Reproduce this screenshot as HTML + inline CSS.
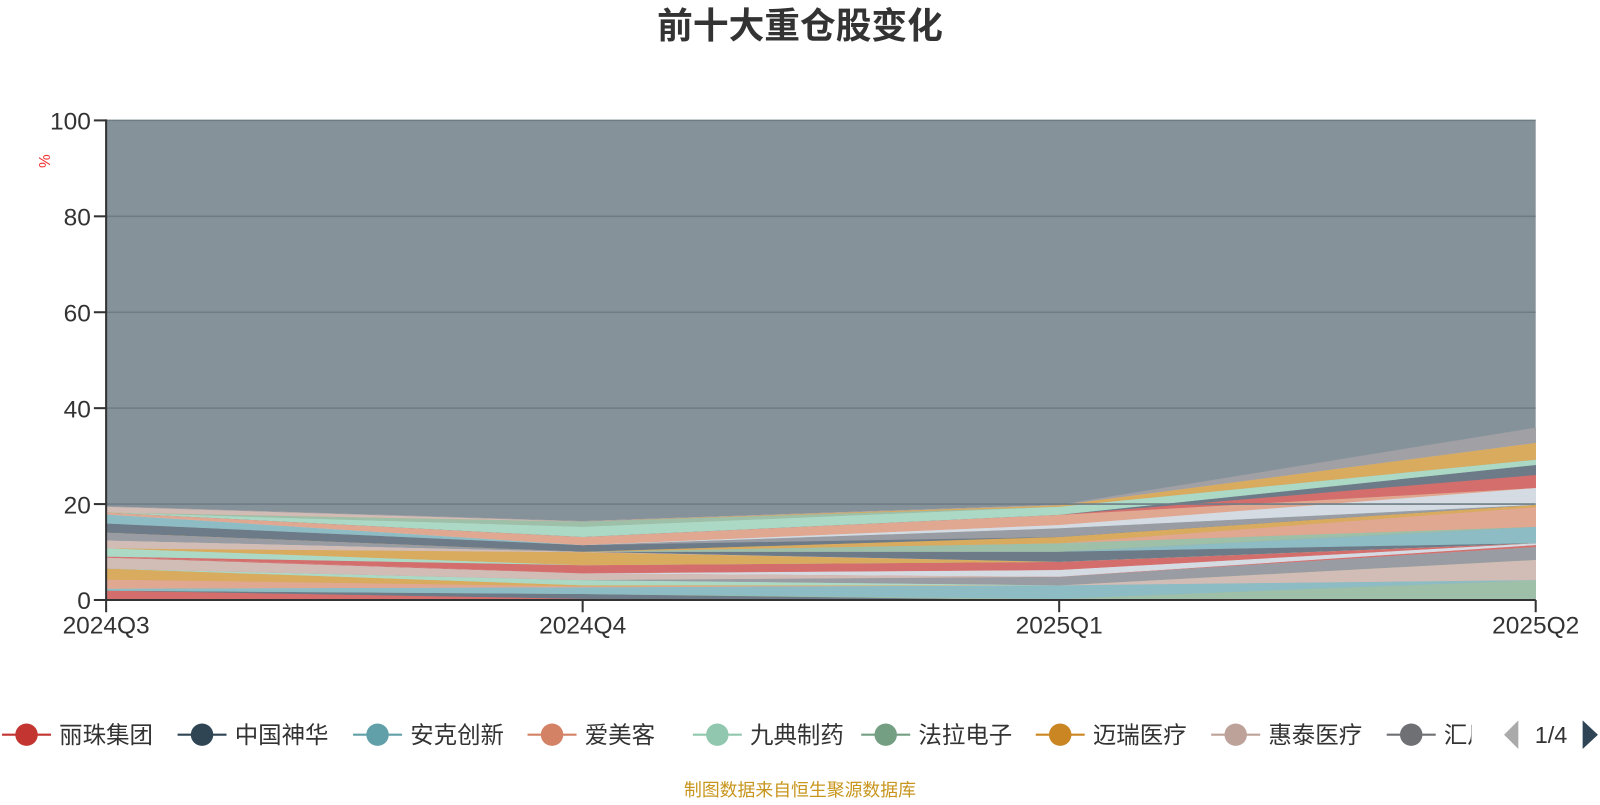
<!DOCTYPE html>
<html><head><meta charset="utf-8"><style>
body{margin:0;background:#fff;width:1600px;height:800px;overflow:hidden;font-family:"Liberation Sans","Noto Sans CJK SC",sans-serif}
</style></head><body>
<svg id="s" width="1600" height="800" xmlns="http://www.w3.org/2000/svg" font-family="Liberation Sans, Noto Sans CJK SC, sans-serif">
<g transform="scale(1.0204)">
<text x="784" y="37" text-anchor="middle" font-size="35" font-weight="bold" fill="#333">前十大重仓股变化</text>
<rect x="104" y="118" width="1401" height="470" fill="#85929a"/>
<g id="bands"></g>
<g stroke="#6f7c85" stroke-width="1.5">
<line x1="104" y1="118" x2="1505" y2="118"/><line x1="104" y1="212" x2="1505" y2="212"/><line x1="104" y1="306" x2="1505" y2="306"/><line x1="104" y1="400" x2="1505" y2="400"/><line x1="104" y1="494" x2="1505" y2="494"/>
</g>
<g stroke="#333" stroke-width="2">
<line x1="104" y1="117" x2="104" y2="589"/><line x1="103" y1="588" x2="1505" y2="588"/>
<line x1="92" y1="118" x2="104" y2="118"/><line x1="92" y1="212" x2="104" y2="212"/><line x1="92" y1="306" x2="104" y2="306"/><line x1="92" y1="400" x2="104" y2="400"/><line x1="92" y1="494" x2="104" y2="494"/><line x1="92" y1="588" x2="104" y2="588"/>
<line x1="104" y1="588" x2="104" y2="600"/><line x1="571" y1="588" x2="571" y2="600"/><line x1="1038" y1="588" x2="1038" y2="600"/><line x1="1505" y1="588" x2="1505" y2="600"/>
</g>
<g font-size="24" fill="#333" text-anchor="end">
<text x="89" y="127">100</text><text x="89" y="221">80</text><text x="89" y="315">60</text><text x="89" y="409">40</text><text x="89" y="503">20</text><text x="89" y="597">0</text>
</g>
<g font-size="24" fill="#333" text-anchor="middle">
<text x="104" y="621">2024Q3</text><text x="571" y="621">2024Q4</text><text x="1038" y="621">2025Q1</text><text x="1505" y="621">2025Q2</text>
</g>
<text x="0" y="0" font-size="15" fill="#e33" transform="translate(38,158) rotate(90)" text-anchor="middle">%</text>
<g font-size="23" fill="#333" id="leg"></g>
<polygon points="1488,706 1488,734 1474,720" fill="#aaa"/>
<text x="1520" y="728" font-size="23" fill="#333" text-anchor="middle">1/4</text>
<polygon points="1551,706 1551,734 1566,720" fill="#2f4556"/>
<text x="784" y="780" font-size="17.5" fill="#c8961e" text-anchor="middle">制图数据来自恒生聚源数据库</text>
</g>
</svg>
<script>
var C={red:"#d46e6c",slate:"#6d7b88",sage:"#9ebfa8",blue:"#8dbcc4",beige:"#d2bcb6",salmon:"#e0a791",orange:"#d9ab5f",mint:"#acd9c6",gray:"#999ca3",white:"#d5dbe2",lg:"#a0a0a5"};
var S=[["red",[2,0.3,0,0]],["slate",[0,1,0,0]],["sage",[0,0,0.3,4.2]],["blue",[0.4,1.4,2.8,0]],["beige",[0,0,0,4.2]],["salmon",[1.9,0.2,0,0]],["orange",[2.3,0.2,0,0]],["mint",[0,1.1,0,0]],["gray",[0,0,1.8,2.7]],["beige",[2.3,1.4,0,0]],["red",[0.2,0,0,0.4]],["white",[0,0,1.4,0.4]],["red",[0,1.7,1.7,0]],["mint",[1.7,0,0,0]],["orange",[0,2.7,0,0]],["beige",[1.7,0.1,0,0]],["slate",[0,0,2.1,0]],["blue",[0,0,0,3.4]],["gray",[1.6,0,0,0]],["sage",[0,0,1.8,0]],["salmon",[0,0,0,4.1]],["orange",[0,0,1.3,0.5]],["slate",[1.9,1.4,0,0]],["gray",[0,0,1.8,0]],["blue",[1.9,0,0,0]],["white",[0,0,0.7,3.5]],["salmon",[0.4,1.7,2.1,0]],["red",[0,0,0,2.7]],["slate",[0,0,0,2.1]],["mint",[0,2.1,1.7,1.1]],["sage",[0,1.1,0,0]],["orange",[0,0,0.3,3.5]],["beige",[1.2,0,0,0]],["lg",[0,0,0,3.1]]];
var X=[104,571,1038,1505],base=[0,0,0,0],h="";
S.forEach(function(s){var top=base.map(function(b,i){return b+s[1][i]});var p=[];
for(var i=0;i<4;i++)p.push(X[i]+","+(588-top[i]*4.7).toFixed(1));
for(var i=3;i>=0;i--)p.push(X[i]+","+(588-base[i]*4.7).toFixed(1));
h+='<polygon points="'+p.join(" ")+'" fill="'+C[s[0]]+'" stroke="'+C[s[0]]+'" stroke-width="0.5"/>';base=top;});
document.getElementById("bands").innerHTML=h;
var L=[["丽珠集团","#c23531",26],["中国神华","#2f4554",198],["安克创新","#61a0a8",370],["爱美客","#d48265",541],["九典制药","#91c7ae",703],["法拉电子","#749f83",868],["迈瑞医疗","#ca8622",1039],["惠泰医疗","#bda29a",1211],["汇川技术","#6e7074",1383]];
var g="";L.forEach(function(l){var x=l[2];g+='<line x1="'+(x-24)+'" y1="720" x2="'+(x+24)+'" y2="720" stroke="'+l[1]+'" stroke-width="2"/><circle cx="'+x+'" cy="720" r="11" fill="'+l[1]+'"/><text x="'+(x+32)+'" y="728">'+l[0]+'</text>';});
g='<defs><clipPath id="cp"><rect x="0" y="690" width="1442" height="60"/></clipPath></defs><g clip-path="url(#cp)">'+g+'</g>';
document.getElementById("leg").innerHTML=g;
</script>
</body></html>
